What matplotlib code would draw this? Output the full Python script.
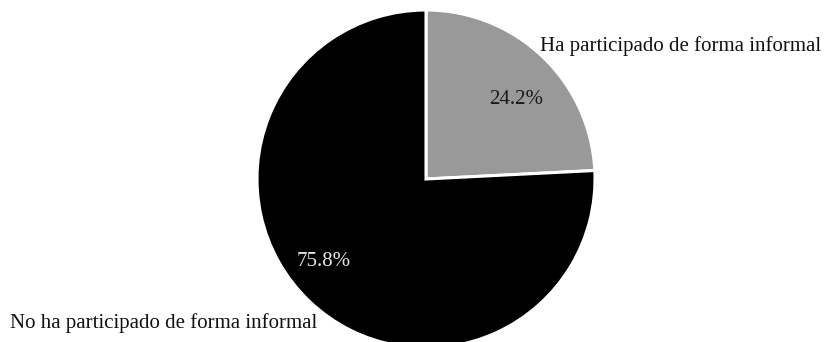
import matplotlib
matplotlib.use("Agg")
import matplotlib.pyplot as plt

categories = ["Ha participado de forma informal", "No ha participado de forma informal"]
shares = [24.2, 75.8]
colors = ["#999999", "#000000"]
pct_colors = ["#1a1a1a", "#e6e6e6"]

plt.rcParams["font.family"] = ["Liberation Serif", "DejaVu Serif"]

W, H = 824, 342
cx, cy, r = 426, 179, 169

fig = plt.figure(figsize=(W / 100, H / 100), dpi=100)
ax = fig.add_axes([0, 0, 1, 1])

ax.pie(shares, colors=colors, startangle=90, counterclock=False,
       wedgeprops=dict(edgecolor="white", linewidth=2.2))

# pie() resets the limits, so fix them afterwards (one unit = r pixels)
ax.set_aspect("auto")
ax.set_xlim(-cx / r, (W - cx) / r)
ax.set_ylim(-(H - cy) / r, cy / r)
ax.axis("off")

# category labels sit outside the pie (positions in pixels, baseline)
label_pos = [(540, 51), (10, 328)]
for name, (px, py) in zip(categories, label_pos):
    ax.text((px - cx) / r, (cy - py) / r, name, ha="left", va="baseline",
            fontsize=15, color="#111111")

# percentage labels inside the slices
pct_pos = [(516.5, 104), (323.5, 266)]
for val, (px, py), c in zip(shares, pct_pos, pct_colors):
    ax.text((px - cx) / r, (cy - py) / r, f"{val:.1f}%", ha="center",
            va="baseline", fontsize=15, color=c)

fig.savefig("out.png", dpi=100)
